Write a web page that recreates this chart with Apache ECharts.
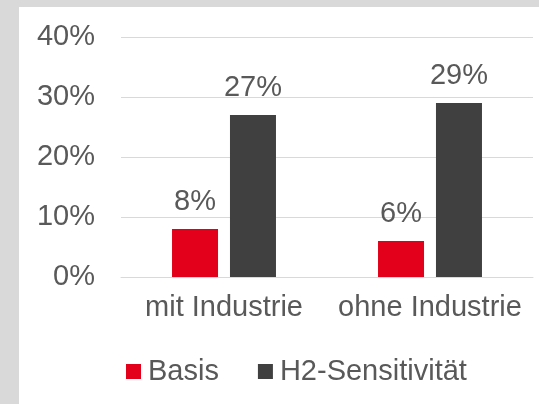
<!DOCTYPE html>
<html>
<head>
<meta charset="utf-8">
<script src="https://cdn.jsdelivr.net/npm/echarts@6/dist/echarts.min.js"></script>
<style>
html,body{margin:0;padding:0;width:539px;height:404px;background:#d9d9d9;overflow:hidden;}
#c{position:absolute;left:19px;top:7px;width:520px;height:397px;background:#ffffff;}
</style>
</head>
<body>
<div id="c"></div>
<script>
const categories = ['mit Industrie', 'ohne Industrie'];
const basis = [8, 6];
const h2 = [27, 29];
const seriesNames = ['Basis', 'H2-Sensitivität'];
const yTicks = [0, 10, 20, 30, 40];

const font = 'Liberation Sans, Arial, sans-serif';
const txt = '#595959';
const fs = 29;
const chart = echarts.init(document.getElementById('c'), null, {renderer: 'canvas'});
chart.setOption({
  animation: false,
  backgroundColor: '#ffffff',
  textStyle: {fontFamily: font},
  grid: {left: 102, right: 6, top: 30, bottom: 127, containLabel: false},
  legend: {
    top: 350, left: 107, padding: 0,
    itemWidth: 15, itemHeight: 15, itemGap: 39,
    icon: 'rect',
    textStyle: {color: txt, fontSize: fs, fontFamily: font, padding: [0, 0, 0, 2]},
    data: seriesNames
  },
  xAxis: {
    type: 'category', data: categories,
    axisLine: {lineStyle: {color: '#d9d9d9', width: 1}},
    axisTick: {show: false},
    axisLabel: {color: txt, fontSize: fs, fontFamily: font, margin: 16, interval: 0}
  },
  yAxis: {
    type: 'value', min: yTicks[0], max: yTicks[yTicks.length - 1], interval: 10,
    axisLine: {show: false}, axisTick: {show: false},
    splitLine: {lineStyle: {color: '#d9d9d9', width: 1}},
    axisLabel: {color: txt, fontSize: fs, fontFamily: font, margin: 26, formatter: v => v + '%'}
  },
  series: [
    {name: seriesNames[0], type: 'bar', data: basis, barWidth: 46, barGap: '26%',
     itemStyle: {color: '#e2001a'},
     label: {show: true, position: 'top', distance: 13, color: txt, fontSize: fs, fontFamily: font, formatter: p => p.value + '%'}},
    {name: seriesNames[1], type: 'bar', data: h2, barWidth: 46,
     itemStyle: {color: '#404040'},
     label: {show: true, position: 'top', distance: 13, color: txt, fontSize: fs, fontFamily: font, formatter: p => p.value + '%'}}
  ]
});
</script>
</body>
</html>
